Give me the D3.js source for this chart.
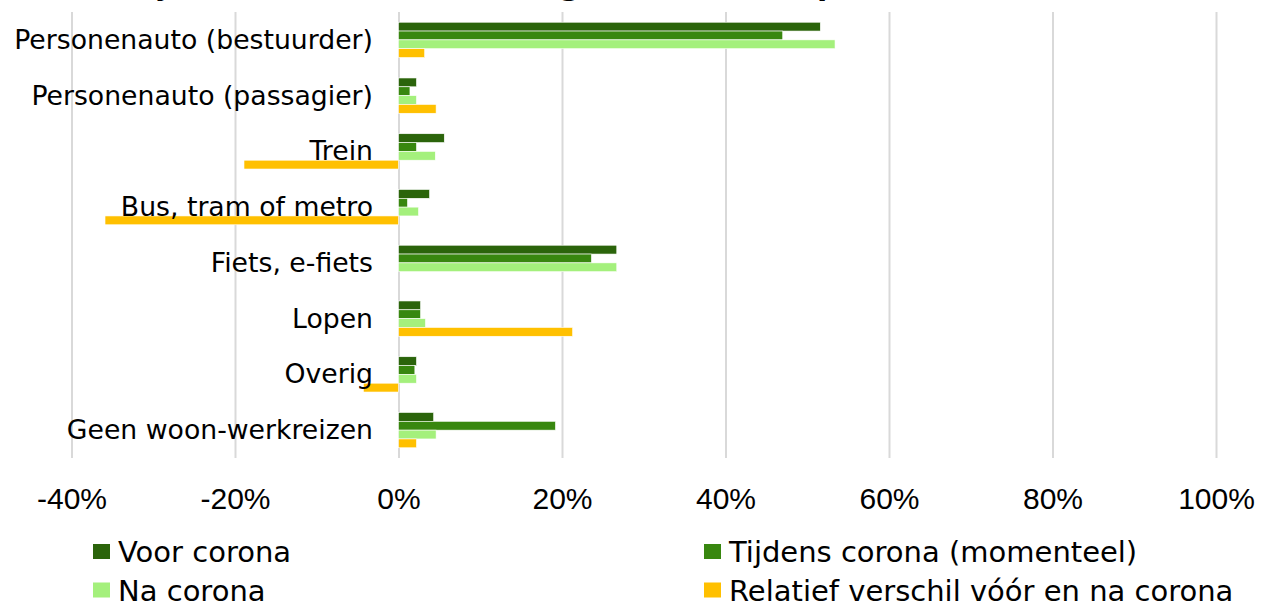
<!DOCTYPE html>
<html>
<head>
<meta charset="utf-8">
<script src="https://cdn.jsdelivr.net/npm/d3@7"></script>
<style>
    html, body { margin: 0; padding: 0; background: #fff; }
    svg { display: block; font-family: "DejaVu Sans", Verdana, sans-serif; }
    .grid line { stroke: #d9d9d9; stroke-width: 2px; }
    .grid .domain { display: none; }
    .xaxis .domain { display: none; }
    .xaxis text { font-size: 30px; fill: #000; }
</style>
</head>
<body>
<div id="chart"></div>
<script>
(function()
{
    "use strict";

    // #########################################################################
    var titleText = "Woon-werkverkeer, bij thuiswerk (verwachting) na corona (op kantoor)";

    var categories = ["Personenauto (bestuurder)", "Personenauto (passagier)", "Trein",
                      "Bus, tram of metro", "Fiets, e-fiets", "Lopen", "Overig",
                      "Geen woon-werkreizen"];

    var voor     = [51.6, 2.2,   5.6,   3.8, 26.7,  2.7,  2.2,  4.3];
    var tijdens  = [47.0, 1.4,   2.2,   1.1, 23.6,  2.7,  2.0, 19.2];
    var na       = [53.4, 2.2,   4.5,  2.45, 26.7,  3.3,  2.2,  4.6];
    var relatief = [ 3.2, 4.6, -18.9, -35.9,  0.0, 21.3, -4.3,  2.2];

    var seriesNames  = ["Voor corona", "Tijdens corona (momenteel)", "Na corona",
                        "Relatief verschil vóór en na corona"];
    var seriesColors = ["#2b640b", "#38870f", "#a4f07c", "#ffc000"];

    var tickValues = [-40, -20, 0, 20, 40, 60, 80, 100];
    // #########################################################################

    var width = 1264, h = 606;
    var plotTop = 12, plotBottom = 458;

    var svg = d3.select("#chart")
                .append("svg")
                .attr("width", width)
                .attr("height", h);

    var series = [voor, tijdens, na, relatief];
    var rows = categories.map(function(c, i) {
        return { cat: c, values: series.map(function(s) { return s[i]; }) };
    });

    // #########################################################################
    var xScale = d3.scaleLinear()
                   .domain([-40, 100])
                   .range([71.5, 1216]);

    var yScale = d3.scaleBand()
                   .domain(categories)
                   .range([plotTop, plotBottom])
                   .paddingInner(0.367)
                   .paddingOuter(0.1835);

    var ySub = d3.scaleBand()
                 .domain(d3.range(series.length))
                 .range([0, yScale.bandwidth()]);
    // #########################################################################

    // title, mostly cut off above the picture
    var title = svg.append("text")
                   .attr("y", -5)
                   .attr("font-weight", "bold")
                   .attr("font-size", "30px")
                   .text(titleText);
    var commaAt = titleText.indexOf(",");
    var prefix = title.node().getSubStringLength(0, commaAt);
    title.attr("x", 105 - prefix);

    // gridlines
    svg.append("g")
       .attr("class", "grid")
       .attr("transform", `translate(0, ${plotBottom})`)
       .call(d3.axisBottom(xScale)
               .tickValues(tickValues)
               .tickSize(-(plotBottom - plotTop))
               .tickFormat(""));

    // bars
    var groups = svg.selectAll("g.cat")
                    .data(rows)
                  .enter().append("g")
                    .attr("class", "cat")
                    .attr("transform", function(d) { return `translate(0, ${yScale(d.cat)})`; });

    groups.selectAll("rect")
          .data(function(d) { return d.values; })
        .enter().append("rect")
          .attr("x", function(v) { return xScale(Math.min(0, v)); })
          .attr("y", function(v, i) { return ySub(i); })
          .attr("width", function(v) { return Math.abs(xScale(v) - xScale(0)); })
          .attr("height", ySub.bandwidth())
          .attr("fill", function(v, i) { return seriesColors[i]; })
          .attr("stroke", "#fff")
          .attr("stroke-width", 0.6);

    // category labels on top of the bars
    svg.append("g")
       .selectAll("text")
       .data(categories)
     .enter().append("text")
       .attr("x", 373)
       .attr("y", function(d) { return yScale(d) + yScale.bandwidth() / 2; })
       .attr("dy", "0.34em")
       .attr("text-anchor", "end")
       .attr("font-size", "26.7px")
       .attr("fill", "#000")
       .text(function(d) { return d; });

    // x axis labels
    var xAxis = d3.axisBottom(xScale)
                  .tickValues(tickValues)
                  .tickSize(0)
                  .tickPadding(0)
                  .tickFormat(function(d) { return d + "%"; });

    svg.append("g")
       .attr("class", "xaxis")
       .attr("transform", "translate(0, 509)")
       .call(xAxis)
       .selectAll("text")
       .attr("dy", 0)
       .attr("y", 0);

    // legend
    var legendPos = [[93, 562], [704, 562], [93, 600.5], [704, 600.5]];
    var legend = svg.selectAll("g.legend")
                    .data(seriesNames)
                  .enter().append("g")
                    .attr("class", "legend")
                    .attr("transform", function(d, i) {
                        return `translate(${legendPos[i][0]}, ${legendPos[i][1]})`;
                    });

    legend.append("rect")
          .attr("x", 0)
          .attr("y", -18)
          .attr("width", 17)
          .attr("height", 15)
          .attr("fill", function(d, i) { return seriesColors[i]; });

    legend.append("text")
          .attr("x", 25)
          .attr("font-size", "29px")
          .attr("fill", "#000")
          .text(function(d) { return d; });
}
)();
// #############################################################################
</script>
</body>
</html>
